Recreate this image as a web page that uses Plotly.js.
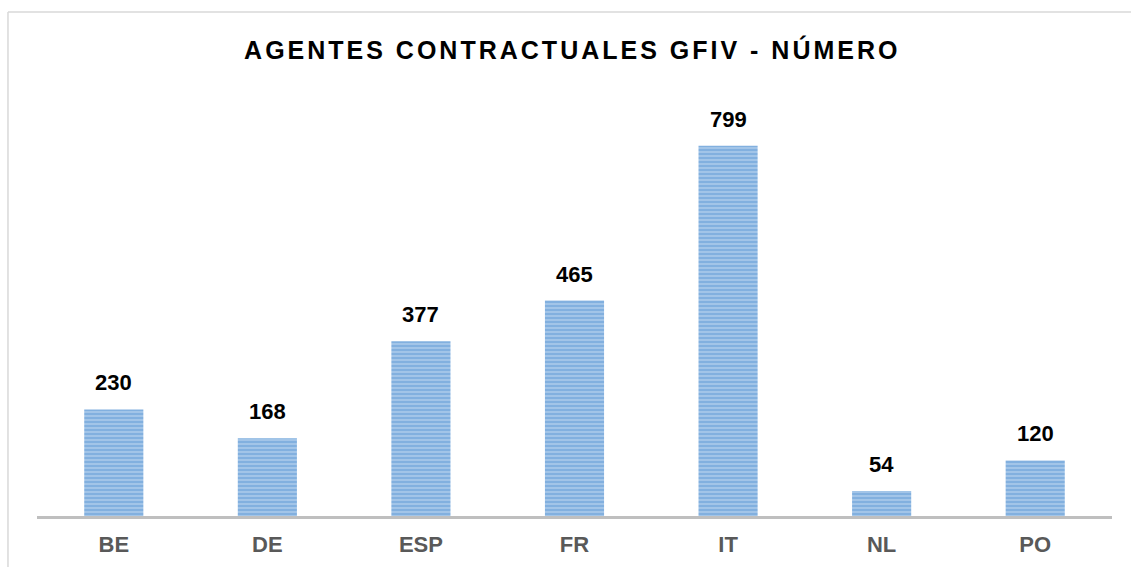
<!DOCTYPE html>
<html>
<head>
<meta charset="utf-8">
<script src="https://cdn.plot.ly/plotly-3.0.1.min.js"></script>
<style>
html,body{margin:0;padding:0;background:#fff;}
#chart{width:1131px;height:567px;}
.gtitle{letter-spacing:3px;}
</style>
</head>
<body>
<div id="chart"></div>
<script>
const categories = ["BE", "DE", "ESP", "FR", "IT", "NL", "PO"];
const values = [230, 168, 377, 465, 799, 54, 120];
const titleText = "AGENTES CONTRACTUALES GFIV - NÚMERO";

const FONT = '"Liberation Sans Narrow", "Arial Narrow", "Liberation Sans", Arial, sans-serif';

const trace = {
  type: "bar",
  x: categories,
  y: values,
  marker: {
    color: "#b7d2ee",
    line: {width: 0},
    pattern: {shape: "-", fgcolor: "#4d8dd0", bgcolor: "#b7d2ee", size: 4, solidity: 0.7, fillmode: "overlay"}
  },
  hoverinfo: "x+y"
};

const annotations = categories.map((c, i) => ({
  x: c, y: values[i], xref: "x", yref: "y",
  text: String(values[i]), showarrow: false,
  yanchor: "bottom", yshift: 12,
  font: {family: FONT, size: 22, color: "#000000", weight: "bold"}
}));

const layout = {
  width: 1131, height: 567,
  margin: {l: 37, r: 19, t: 100, b: 51},
  paper_bgcolor: "#ffffff", plot_bgcolor: "#ffffff",
  title: {text: "<b>" + titleText + "</b>", x: 0.506, xanchor: "center", y: 0.912, yanchor: "middle",
          font: {family: FONT, size: 25, color: "#000000"}},
  bargap: 0.615,
  showlegend: false,
  xaxis: {
    showline: true, linecolor: "#bfbfbf", linewidth: 3,
    ticks: "", showgrid: false, zeroline: false,
    tickfont: {family: FONT, size: 22, color: "#595959", weight: "bold"},
    ticklabelstandoff: 7
  },
  yaxis: {range: [0, 898], visible: false, showgrid: false, zeroline: false},
  annotations: annotations,
  shapes: [
    {type: "line", xref: "paper", yref: "paper", x0: -0.027, x1: -0.027, y0: -0.2, y1: 1.2115,
     line: {color: "#d9d9d9", width: 1.5}},
    {type: "line", xref: "paper", yref: "paper", x0: -0.027, x1: 1.05, y0: 1.2115, y1: 1.2115,
     line: {color: "#d9d9d9", width: 1.5}}
  ]
};

Plotly.newPlot("chart", [trace], layout, {displayModeBar: false, staticPlot: true});
</script>
</body>
</html>
